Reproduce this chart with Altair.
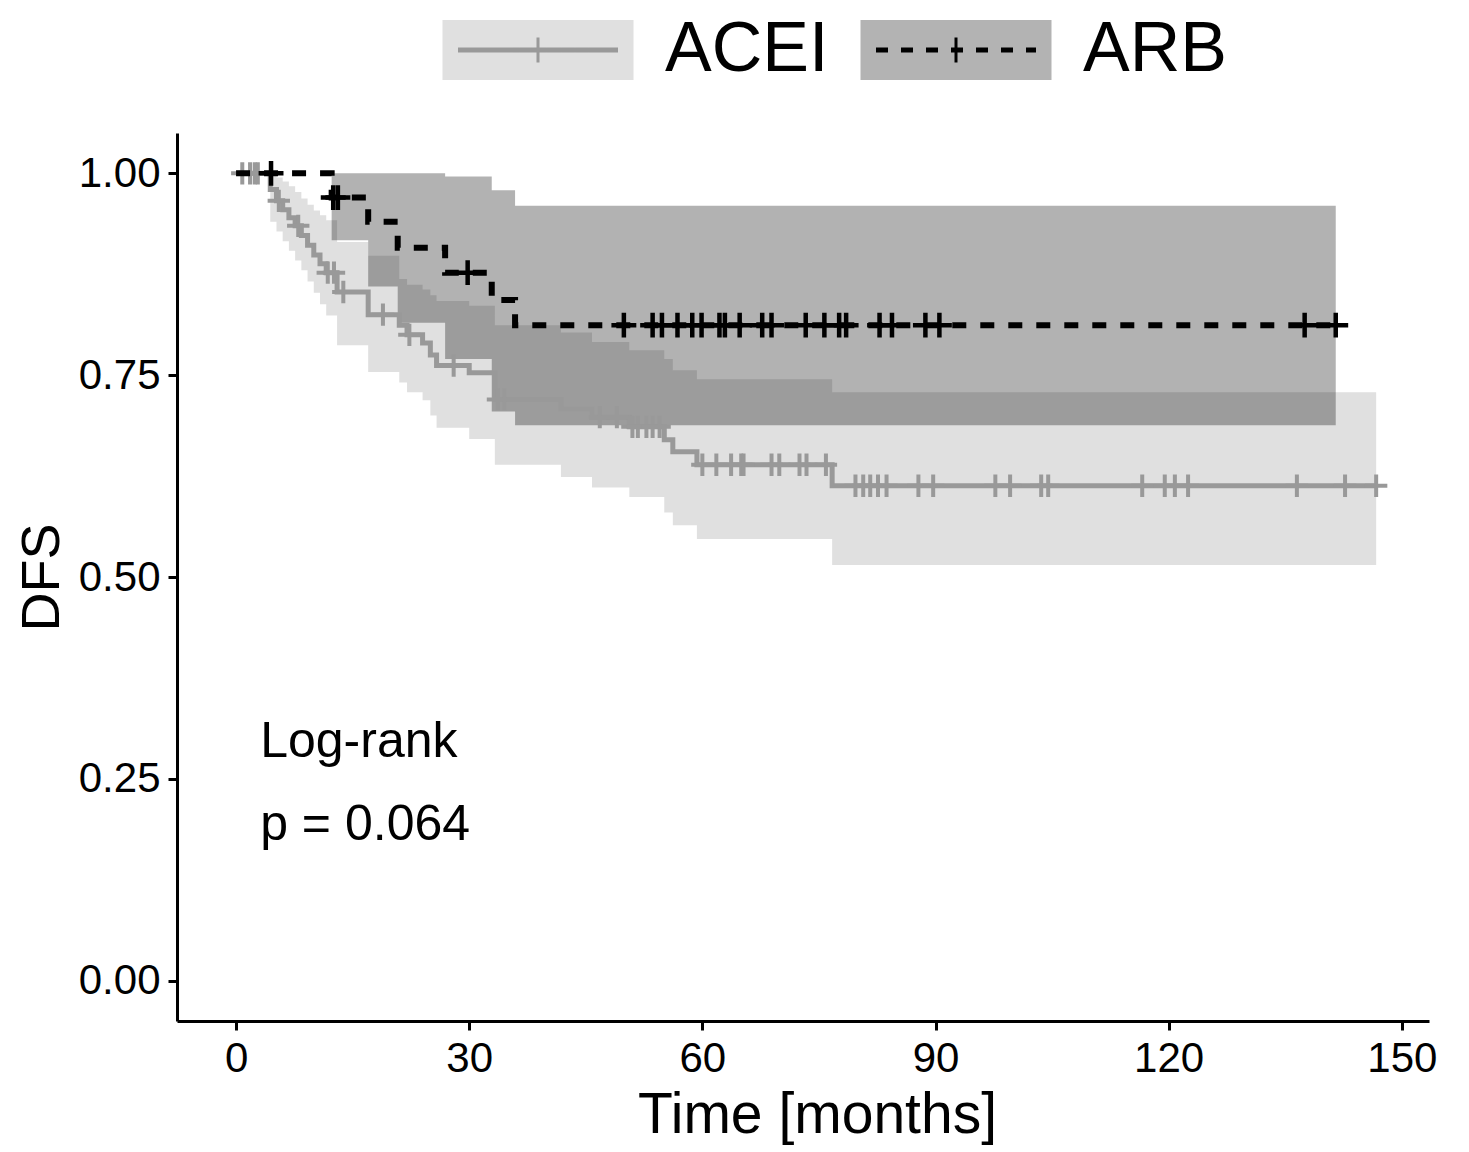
import altair as alt
import pandas as pd
import numpy as np

# ---------------- data ----------------
groups = ["ACEI", "ARB"]

# ACEI Kaplan-Meier steps (time in months, survival after the step, 95% CI)
acei_time = [0, 4.4, 5.2, 6.0, 6.8, 7.6, 8.4, 9.2, 10.0, 10.8, 11.6, 13.0, 17.0, 21.0, 22.0,
             24.0, 25.0, 25.8, 30.0, 33.3, 41.8, 45.8, 50.6, 55.1, 56.2, 59.3, 76.7, 146.7]
acei_surv = [1.0, 0.980, 0.966, 0.955, 0.945, 0.935, 0.923, 0.911, 0.899, 0.888, 0.877, 0.853,
             0.825, 0.812, 0.800, 0.790, 0.775, 0.762, 0.753, 0.720, 0.708, 0.698, 0.686, 0.670,
             0.655, 0.639, 0.613, 0.613]
acei_upper = [1.0, 1.0, 0.995, 0.990, 0.984, 0.977, 0.969, 0.961, 0.954, 0.948, 0.942, 0.915,
              0.898, 0.869, 0.862, 0.856, 0.849, 0.842, 0.836, 0.812, 0.803, 0.791, 0.781, 0.770,
              0.756, 0.745, 0.729, 0.729]
acei_lower = [1.0, 0.940, 0.928, 0.916, 0.904, 0.892, 0.880, 0.866, 0.852, 0.838, 0.824, 0.787,
              0.754, 0.741, 0.729, 0.719, 0.700, 0.685, 0.671, 0.639, 0.624, 0.611, 0.599, 0.580,
              0.564, 0.547, 0.515, 0.515]
acei_censor = [0.8, 1.8, 2.4, 2.8, 5.5, 8.0, 11.8, 12.6, 13.8, 18.9, 22.3, 28.0, 33.7, 34.5,
               46.8, 49.0, 51.0, 51.7, 52.8, 53.6, 54.5, 60.0, 61.8, 63.7, 65.0, 65.3, 68.9,
               69.9, 72.5, 73.4, 75.9, 79.7, 80.7, 81.6, 82.6, 83.7, 87.8, 89.7, 97.7, 99.6,
               103.6, 104.5, 116.6, 119.5, 120.8, 122.5, 136.5, 142.7, 146.7]

# ARB Kaplan-Meier steps
arb_time = [0, 12.3, 17.0, 20.8, 26.9, 32.9, 35.9, 141.5]
arb_surv = [1.0, 0.970, 0.940, 0.908, 0.877, 0.843, 0.812, 0.812]
arb_upper = [1.0, 1.0, 1.0, 1.0, 0.996, 0.979, 0.960, 0.960]
arb_lower = [1.0, 0.917, 0.860, 0.815, 0.770, 0.705, 0.688, 0.688]
arb_censor = [4.5, 12.5, 13.1, 29.8, 49.9, 53.6, 54.8, 56.8, 58.7, 59.9, 62.2, 62.9, 64.8,
              67.7, 68.9, 73.3, 75.7, 77.6, 78.5, 82.8, 84.4, 88.7, 90.5, 137.5, 141.5]

annot_text = ["Log-rank", "p = 0.064"]
annot_x = [3.1, 3.1]
annot_y = [0.277, 0.174]

x_ticks = [0, 30, 60, 90, 120, 150]
y_ticks = [0.0, 0.25, 0.50, 0.75, 1.00]

# ---------------- tables ----------------
def step_table(name, t, s, lo, hi):
    return pd.DataFrame({"group": name, "time": t, "surv": s, "lower": lo, "upper": hi})

def censor_table(name, ct, t, s):
    idx = np.searchsorted(np.array(t), np.array(ct), side="right") - 1
    return pd.DataFrame({"group": name, "time": ct, "surv": np.array(s)[idx]})

acei_df = step_table("ACEI", acei_time, acei_surv, acei_lower, acei_upper)
arb_df = step_table("ARB", arb_time, arb_surv, arb_lower, arb_upper)
arb_band_df = arb_df[arb_df["time"] >= 12.3]
acei_c = censor_table("ACEI", acei_censor, acei_time, acei_surv)
arb_c = censor_table("ARB", arb_censor, arb_time, arb_surv)
annot_df = pd.DataFrame({"label": annot_text, "time": annot_x, "surv": annot_y})

FONT = "Liberation Sans"
GREY = "#999999"

xs = alt.Scale(domain=[-7.6, 153.5], nice=False, zero=False)
ys = alt.Scale(domain=[-0.05, 1.05], nice=False, zero=False)
X = alt.X("time:Q", scale=xs, title="Time [months]",
          axis=alt.Axis(values=x_ticks, format="d", titleX=640, titleAlign="center"))
def Y(field):
    return alt.Y(f"{field}:Q", scale=ys, title="DFS",
                 axis=alt.Axis(values=y_ticks, format=".2f"))

PLUS = "M-1,0H1M0,-1V1"

band_acei = alt.Chart(acei_df).mark_area(interpolate="step-after", color=GREY, opacity=0.3).encode(
    x=X, y=Y("lower"), y2="upper:Q")
band_arb = alt.Chart(arb_band_df).mark_area(interpolate="step-after", color="#000000", opacity=0.3).encode(
    x=X, y=Y("lower"), y2="upper:Q")
line_acei = alt.Chart(acei_df).mark_line(interpolate="step-after", color=GREY, strokeWidth=5).encode(
    x=X, y=Y("surv"))
line_arb = alt.Chart(arb_df).mark_line(interpolate="step-after", color="#000000", strokeWidth=6,
                                       strokeDash=[14, 14]).encode(x=X, y=Y("surv"))
cens_acei = alt.Chart(acei_c).mark_point(shape=PLUS, size=500, filled=False, color=GREY,
                                         strokeWidth=4, opacity=1).encode(x=X, y=Y("surv"))
cens_arb = alt.Chart(arb_c).mark_point(shape=PLUS, size=620, filled=False, color="#000000",
                                       strokeWidth=4.5, opacity=1).encode(x=X, y=Y("surv"))
annot = alt.Chart(annot_df).mark_text(align="left", baseline="alphabetic", fontSize=50,
                                      font=FONT, color="#000000").encode(
    x=X, y=Y("surv"), text="label:N")

main = alt.layer(band_acei, band_arb, line_acei, cens_acei, line_arb, cens_arb, annot).properties(
    width=1252, height=888)

# ---------------- legend (drawn as its own small chart) ----------------
leg_df = pd.DataFrame({"group": groups})
LX = alt.X("group:N", scale=alt.Scale(type="point", domain=groups, range=[361, 779], padding=0),
           axis=None)
BOX = "M-1,-0.314H1V0.314H-1Z"
HLINE = "M-1,0H1"
VLINE = "M0,-1V1"

def leg_layers(name, fill, stroke, dash, lw, cw):
    d = alt.Chart(leg_df).transform_filter(alt.datum.group == name)
    box = d.mark_point(shape=BOX, filled=True, size=191 ** 2, color=fill, opacity=1,
                       strokeWidth=0).encode(x=LX)
    ln = d.mark_point(shape=HLINE, filled=False, size=160 ** 2, color=stroke, opacity=1,
                      strokeWidth=lw, strokeDash=dash).encode(x=LX)
    cr = d.mark_point(shape=VLINE, filled=False, size=25 ** 2, color=stroke, opacity=1,
                      strokeWidth=cw).encode(x=LX)
    tx = d.mark_text(align="left", baseline="middle", dx=127, fontSize=70, font=FONT,
                     color="#000000").encode(x=LX, text="group:N")
    return [box, ln, cr, tx]

legend = alt.layer(*leg_layers("ACEI", "#e0e0e0", GREY, [1, 0], 5, 3),
                   *leg_layers("ARB", "#b3b3b3", "#000000", [12, 13], 5, 3)).properties(
    width=1252, height=68)

chart = alt.vconcat(legend, main, spacing=48).configure(
    padding={"top": 7, "left": 7, "right": 4, "bottom": 4}, font=FONT
).configure_view(stroke=None).configure_axis(
    grid=False, domainColor="#000000", domainWidth=3, tickColor="#000000", tickWidth=3,
    tickSize=9, labelColor="#000000", labelFont=FONT, labelFontSize=42, labelPadding=8,
    titleColor="#000000", titleFont=FONT, titleFontWeight="normal"
).configure_axisX(titlePadding=8, titleFontSize=57).configure_axisY(titlePadding=9, titleFontSize=54)

chart.save("out.html", embed_options={"renderer": "svg", "actions": False})
